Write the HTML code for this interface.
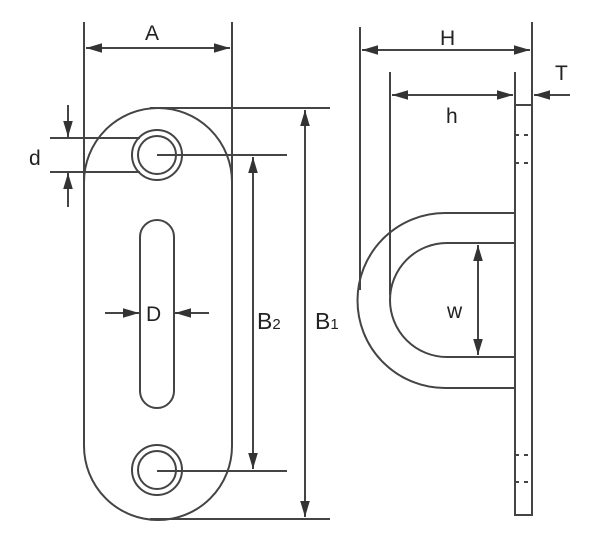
<!DOCTYPE html>
<html><head><style>body{margin:0;background:#fff}svg{display:block}text{font-family:"Liberation Sans",sans-serif;fill:#222}</style></head>
<body>
<svg width="600" height="540" viewBox="0 0 600 540">
<defs>
<marker id="a" viewBox="0 0 10 10" refX="10" refY="5" markerWidth="8" markerHeight="8" orient="auto-start-reverse"><path d="M0,2 L10,5 L0,8 Z" fill="#333"/></marker>
</defs>
<g stroke="#444" stroke-width="2" fill="none">
<path d="M84,182 A74,74 0 0 1 232,182 L232,446 A74,74 0 0 1 84,446 Z"/>
<circle cx="157" cy="155" r="25"/><circle cx="157" cy="155" r="19"/>
<circle cx="157" cy="470" r="25"/><circle cx="157" cy="470" r="19"/>
<path d="M140,237 A17,17 0 0 1 174,237 L174,391 A17,17 0 0 1 140,391 Z"/>
<line x1="84" y1="22" x2="84" y2="182"/><line x1="232" y1="22" x2="232" y2="182"/>
<line x1="86" y1="48" x2="230" y2="48" marker-start="url(#a)" marker-end="url(#a)"/>
<line x1="50" y1="138" x2="140" y2="138"/><line x1="50" y1="172" x2="140" y2="172"/>
<line x1="68" y1="105" x2="68" y2="137" marker-end="url(#a)"/>
<line x1="68" y1="207" x2="68" y2="173" marker-end="url(#a)"/>
<line x1="150" y1="108" x2="330" y2="108"/><line x1="150" y1="519" x2="330" y2="519"/>
<line x1="305" y1="110" x2="305" y2="517" marker-start="url(#a)" marker-end="url(#a)"/>
<line x1="157" y1="155" x2="287" y2="155"/><line x1="157" y1="471" x2="287" y2="471"/>
<line x1="253" y1="157" x2="253" y2="469" marker-start="url(#a)" marker-end="url(#a)"/>
<line x1="105" y1="313" x2="139" y2="313" marker-end="url(#a)"/>
<line x1="209" y1="313" x2="175" y2="313" marker-end="url(#a)"/>
<rect x="515" y="105" width="17" height="410"/>
<line x1="515" y1="135" x2="532" y2="135" stroke-dasharray="4,5"/>
<line x1="515" y1="163" x2="532" y2="163" stroke-dasharray="4,5"/>
<line x1="515" y1="455" x2="532" y2="455" stroke-dasharray="4,5"/>
<line x1="515" y1="482" x2="532" y2="482" stroke-dasharray="4,5"/>
<path d="M515,213 L445,213 A87,87 0 0 0 445,388 L515,388"/>
<path d="M515,243 L447,243 A57,57 0 0 0 447,357 L515,357"/>
<line x1="360" y1="27" x2="360" y2="290"/><line x1="532" y1="22" x2="532" y2="105"/>
<line x1="362" y1="50" x2="530" y2="50" marker-start="url(#a)" marker-end="url(#a)"/>
<line x1="390" y1="72" x2="390" y2="295"/><line x1="515" y1="72" x2="515" y2="105"/>
<line x1="392" y1="95" x2="513" y2="95" marker-start="url(#a)" marker-end="url(#a)"/>
<line x1="570" y1="95" x2="534" y2="95" marker-end="url(#a)"/>
<line x1="478" y1="245" x2="478" y2="355" marker-start="url(#a)" marker-end="url(#a)"/>
</g>
<g font-size="21">
<text x="145" y="40">A</text>
<text x="29" y="165">d</text>
<text x="146" y="321">D</text>
<text x="257" y="329" font-size="23">B<tspan font-size="15">2</tspan></text>
<text x="315" y="329" font-size="23">B<tspan font-size="15">1</tspan></text>
<text x="440" y="45">H</text>
<text x="446" y="123">h</text>
<text x="555" y="80">T</text>
<text x="447" y="318">w</text>
</g>
</svg>
</body></html>
